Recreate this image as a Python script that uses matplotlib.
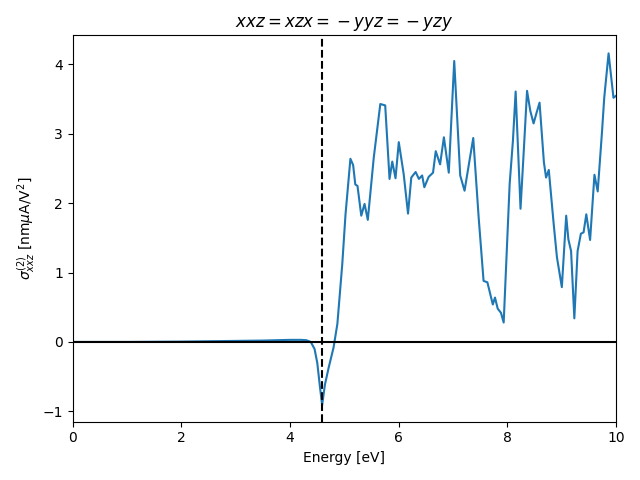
import matplotlib
matplotlib.use('Agg')
import matplotlib.pyplot as plt

# spectrum (energy in eV, sigma in nm muA/V^2)
energy = [0.0, 1.0, 2.0, 3.0, 3.5, 4.0, 4.2, 4.3, 4.38, 4.45, 4.5, 4.55, 4.59,
          4.64, 4.71, 4.80, 4.87, 4.96, 5.02, 5.11, 5.16, 5.20, 5.24, 5.31,
          5.37, 5.43, 5.54, 5.66, 5.75, 5.83, 5.88, 5.94, 6.00, 6.09, 6.17,
          6.23, 6.31, 6.37, 6.43, 6.47, 6.55, 6.63, 6.68, 6.76, 6.83, 6.92,
          7.02, 7.13, 7.21, 7.30, 7.37, 7.47, 7.56, 7.63, 7.73, 7.77, 7.82,
          7.88, 7.93, 8.04, 8.10, 8.15, 8.24, 8.30, 8.36, 8.42, 8.48, 8.53,
          8.59, 8.67, 8.71, 8.76, 8.85, 8.91, 9.00, 9.08, 9.12, 9.17, 9.23,
          9.29, 9.35, 9.40, 9.45, 9.52, 9.60, 9.66, 9.74, 9.78, 9.86, 9.95,
          10.0]
sigma = [0.0, 0.0, 0.005, 0.015, 0.02, 0.03, 0.03, 0.025, 0.0, -0.1, -0.3,
         -0.65, -0.91, -0.62, -0.37, -0.08, 0.26, 1.12, 1.84, 2.64, 2.55,
         2.27, 2.25, 1.82, 1.99, 1.76, 2.66, 3.43, 3.41, 2.35, 2.60, 2.36,
         2.88, 2.42, 1.85, 2.37, 2.45, 2.35, 2.40, 2.23, 2.38, 2.44, 2.75,
         2.56, 2.95, 2.44, 4.05, 2.40, 2.18, 2.61, 2.94, 1.79, 0.88, 0.86,
         0.54, 0.64, 0.48, 0.42, 0.28, 2.28, 2.90, 3.61, 1.92, 2.76, 3.62,
         3.33, 3.15, 3.29, 3.45, 2.59, 2.37, 2.48, 1.70, 1.22, 0.79, 1.82,
         1.48, 1.31, 0.34, 1.31, 1.56, 1.58, 1.84, 1.47, 2.41, 2.17, 3.04,
         3.52, 4.16, 3.52, 3.55]
gap = 4.58

fig, ax = plt.subplots(figsize=(6.4, 4.8), dpi=100)
ax.plot(energy, sigma, color='C0')
ax.axhline(0, color='k')
ax.axvline(gap, color='k', linestyle='--')
ax.set_xlim(0, 10)
ax.set_ylim(-1.15, 4.42)
ax.set_xlabel("Energy [eV]")
ax.set_ylabel(r"$\sigma^{(2)}_{xxz}$ [nm$\mu$A/V$^2$]")
ax.set_title(r"$xxz = xzx = {} - yyz = {} - yzy$")
plt.tight_layout()
plt.savefig("out.png", dpi=100)
